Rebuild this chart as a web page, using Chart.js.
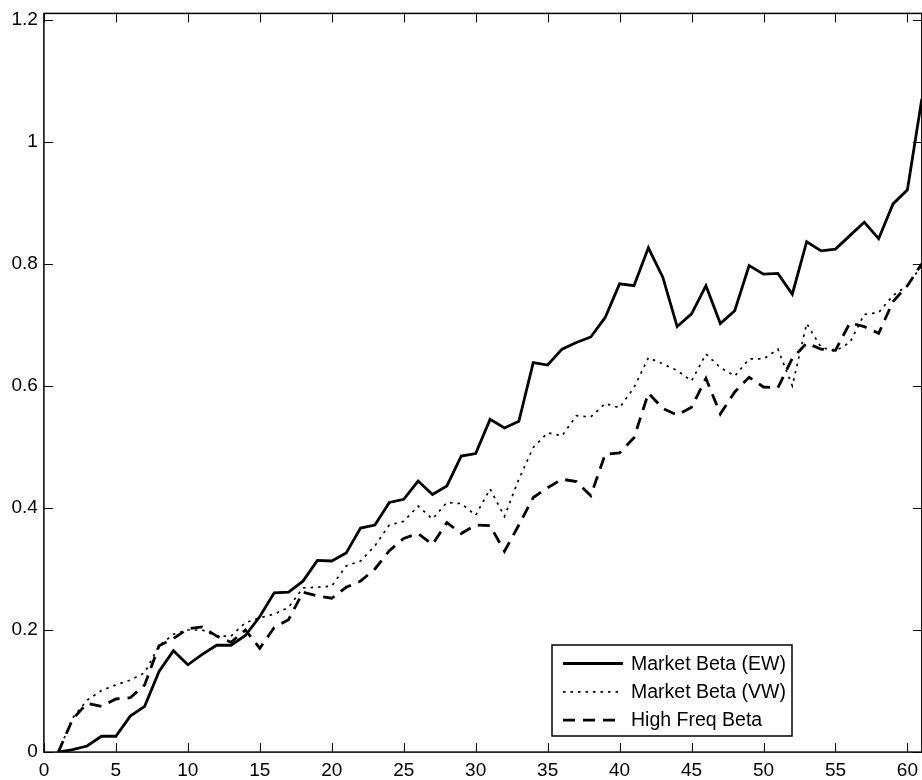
<!DOCTYPE html>
<html>
<head>
<meta charset="utf-8">
<title>Market Beta vs High Freq Beta</title>
<script src="https://cdn.jsdelivr.net/npm/chart.js@4.4.1/dist/chart.umd.min.js"></script>
<style>
  html, body { margin: 0; padding: 0; background: #fff; overflow: hidden; }
  #wrap { width: 926px; height: 784px; margin-top: -4px; }
</style>
</head>
<body>
<div id="wrap"><canvas id="chartBeta" width="926" height="784"></canvas></div>
<script>
// ================= DATA =================
const periods = [1, 2, 3, 4, 5, 6, 7, 8, 9, 10, 11, 12, 13, 14, 15, 16, 17, 18, 19, 20,
  21, 22, 23, 24, 25, 26, 27, 28, 29, 30, 31, 32, 33, 34, 35, 36, 37, 38, 39, 40,
  41, 42, 43, 44, 45, 46, 47, 48, 49, 50, 51, 52, 53, 54, 55, 56, 57, 58, 59, 60, 61];

const betaEW = [0, 0.004, 0.010, 0.026, 0.026, 0.059, 0.075, 0.132, 0.166, 0.143,
  0.160, 0.175, 0.175, 0.191, 0.222, 0.261, 0.262, 0.280, 0.314, 0.313,
  0.326, 0.367, 0.372, 0.409, 0.414, 0.444, 0.422, 0.436, 0.485, 0.489,
  0.545, 0.531, 0.542, 0.638, 0.634, 0.660, 0.671, 0.680, 0.712, 0.767,
  0.764, 0.826, 0.778, 0.697, 0.718, 0.764, 0.702, 0.723, 0.797, 0.783,
  0.784, 0.750, 0.836, 0.821, 0.824, 0.846, 0.868, 0.841, 0.898, 0.921, 1.070];

const betaVW = [0, 0.056, 0.085, 0.101, 0.110, 0.118, 0.130, 0.174, 0.193, 0.200,
  0.200, 0.190, 0.190, 0.212, 0.220, 0.226, 0.237, 0.269, 0.270, 0.272,
  0.305, 0.313, 0.338, 0.372, 0.378, 0.403, 0.382, 0.409, 0.407, 0.388,
  0.431, 0.386, 0.447, 0.499, 0.523, 0.518, 0.551, 0.549, 0.571, 0.564,
  0.597, 0.646, 0.636, 0.625, 0.608, 0.652, 0.630, 0.616, 0.644, 0.644,
  0.660, 0.600, 0.702, 0.663, 0.657, 0.671, 0.717, 0.720, 0.748, 0.764, 0.797];

const betaHF = [0, 0.054, 0.080, 0.075, 0.087, 0.089, 0.110, 0.174, 0.186, 0.202,
  0.205, 0.190, 0.180, 0.200, 0.170, 0.204, 0.217, 0.262, 0.256, 0.252,
  0.270, 0.280, 0.300, 0.330, 0.350, 0.358, 0.340, 0.376, 0.358, 0.372,
  0.371, 0.329, 0.372, 0.417, 0.433, 0.447, 0.443, 0.420, 0.488, 0.490,
  0.515, 0.588, 0.563, 0.552, 0.565, 0.612, 0.554, 0.590, 0.614, 0.598,
  0.597, 0.645, 0.670, 0.660, 0.658, 0.703, 0.697, 0.686, 0.738, 0.764, 0.800];

const seriesLabels = ["Market Beta (EW)", "Market Beta (VW)", "High Freq Beta"];
const xTicks = [0, 5, 10, 15, 20, 25, 30, 35, 40, 45, 50, 55, 60];
const yTicks = [0, 0.2, 0.4, 0.6, 0.8, 1, 1.2];

const FONT = '"Liberation Sans", Arial, Helvetica, sans-serif';

function toPoints(values) {
  return periods.map((p, i) => ({ x: p, y: values[i] }));
}

// ================= PLUGINS =================
// kotak sumbu + tick ke dalam (gaya MATLAB)
const axisBox = {
  id: 'axisBox',
  afterDatasetsDraw(chart) {
    const { ctx, chartArea: a, scales: { x, y } } = chart;
    ctx.save();
    ctx.strokeStyle = '#000';
    ctx.lineWidth = 1.5;
    ctx.strokeRect(a.left, a.top, a.right - a.left, a.bottom - a.top);
    ctx.lineWidth = 1;
    ctx.beginPath();
    x.ticks.forEach(t => {
      const px = Math.round(x.getPixelForValue(t.value)) + 0.5;
      ctx.moveTo(px, a.bottom); ctx.lineTo(px, a.bottom - 9);
      ctx.moveTo(px, a.top); ctx.lineTo(px, a.top + 9);
    });
    y.ticks.forEach(t => {
      const py = Math.round(y.getPixelForValue(t.value)) + 0.5;
      ctx.moveTo(a.left, py); ctx.lineTo(a.left + 9, py);
      ctx.moveTo(a.right, py); ctx.lineTo(a.right - 9, py);
    });
    ctx.stroke();
    ctx.restore();
  }
};

// legend di dalam area grafik, kanan bawah (kanvas digeser 4px ke atas)
const boxLegend = {
  id: 'boxLegend',
  afterDraw(chart) {
    const { ctx } = chart;
    const left = 552, top = 649, width = 240, height = 91;
    ctx.save();
    ctx.fillStyle = '#fff';
    ctx.fillRect(left, top, width, height);
    ctx.strokeStyle = '#000';
    ctx.lineWidth = 1.5;
    ctx.strokeRect(left, top, width, height);

    chart.data.datasets.forEach((ds, i) => {
      const rowY = top + 18.5 + i * 28.3;
      ctx.strokeStyle = ds.borderColor;
      ctx.lineWidth = ds.borderWidth;
      ctx.setLineDash(ds.borderDash || []);
      ctx.beginPath();
      ctx.moveTo(left + 11, rowY);
      ctx.lineTo(left + 71, rowY);
      ctx.stroke();
      ctx.setLineDash([]);
      ctx.fillStyle = '#000';
      ctx.font = '19.5px ' + FONT;
      ctx.textAlign = 'left';
      ctx.textBaseline = 'middle';
      ctx.fillText(ds.label, left + 79, rowY + 1);
    });
    ctx.restore();
  }
};

// ================= CHART =================
const ctx = document.getElementById('chartBeta').getContext('2d');
new Chart(ctx, {
  type: 'line',
  data: {
    datasets: [
      {
        label: seriesLabels[0],
        data: toPoints(betaEW),
        borderColor: '#000',
        borderWidth: 2.8,
        pointRadius: 0,
        tension: 0,
        fill: false
      },
      {
        label: seriesLabels[1],
        data: toPoints(betaVW),
        borderColor: '#000',
        borderWidth: 1.7,
        borderDash: [2.5, 5],
        pointRadius: 0,
        tension: 0,
        fill: false
      },
      {
        label: seriesLabels[2],
        data: toPoints(betaHF),
        borderColor: '#000',
        borderWidth: 2.8,
        borderDash: [12, 8],
        pointRadius: 0,
        tension: 0,
        fill: false
      }
    ]
  },
  options: {
    responsive: false,
    animation: false,
    layout: { padding: { top: 4, left: 5.5, right: 0, bottom: -9 } },
    plugins: {
      legend: { display: false },
      tooltip: { enabled: false }
    },
    scales: {
      x: {
        type: 'linear',
        min: 0,
        max: 61,
        afterBuildTicks: axis => { axis.ticks = xTicks.map(v => ({ value: v })); },
        grid: { display: false, drawTicks: false },
        border: { display: false },
        ticks: {
          color: '#000',
          font: { family: FONT, size: 19, lineHeight: 1.1 },
          padding: 8,
          maxRotation: 0,
          autoSkip: false,
          callback: v => String(v)
        }
      },
      y: {
        min: 0,
        max: 1.21,
        afterBuildTicks: axis => { axis.ticks = yTicks.map(v => ({ value: v })); },
        grid: { display: false, drawTicks: false },
        border: { display: false },
        ticks: {
          color: '#000',
          font: { family: FONT, size: 19 },
          padding: 6,
          autoSkip: false,
          callback: v => String(Math.round(v * 10) / 10)
        }
      }
    }
  },
  plugins: [axisBox, boxLegend]
});
</script>
</body>
</html>
